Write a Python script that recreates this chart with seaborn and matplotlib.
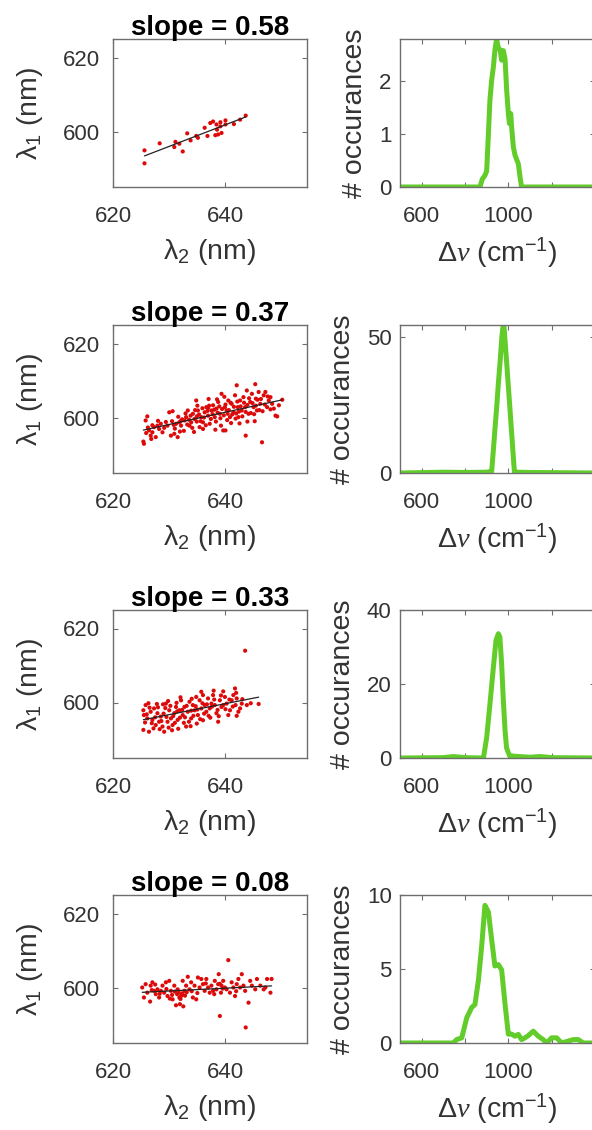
import numpy as np
import pandas as pd
import matplotlib
matplotlib.use("Agg")
import matplotlib.pyplot as plt
import seaborn as sns

# ---------------- data ----------------
slopes = ["0.58", "0.37", "0.33", "0.08"]

s1_x = [625.6, 625.6, 628.3, 631.1, 630.9, 631.8, 632.4, 633.2, 633.8, 634.8, 635.1, 636.3, 636.8,
        637.3, 637.8, 638.5, 638.4, 639.1, 640.0, 638.2, 638.7, 639.3, 639.1, 640.0, 641.5, 642.6, 643.6]
s1_y = [594.9, 591.4, 596.8, 597.2, 595.8, 596.7, 594.6, 599.5, 597.6, 598.8, 598.3, 601.0, 598.8,
        602.3, 602.7, 600.5, 601.9, 602.5, 603.0, 599.0, 599.2, 599.6, 601.4, 601.9, 602.0, 603.2, 604.3]

s2_x = [625.5, 625.4, 625.8, 626.1, 626.4, 626.7, 627.0, 627.3, 627.6, 627.9, 628.2, 628.5, 629.1, 629.7,
        630.0, 630.6, 630.3, 630.9, 631.5, 631.2, 631.8, 632.1, 632.7, 633.0, 633.3, 633.6, 633.9, 634.2,
        634.5, 634.8, 635.1, 635.4, 635.7, 636.0, 636.3, 636.6, 636.9, 637.2, 637.5, 637.8, 638.1, 638.4,
        638.7, 639.0, 639.3, 639.2, 639.6, 639.9, 640.0, 640.2, 640.5, 640.8, 641.1, 641.4, 641.7, 642.0,
        642.2, 642.3, 642.6, 642.9, 643.2, 643.5, 643.6, 643.8, 644.1, 644.4, 644.7, 645.0, 645.3, 645.4,
        645.6, 645.9, 646.2, 646.5, 646.8, 647.1, 647.4, 647.7, 648.0, 648.3, 648.6, 648.9, 649.2, 649.5,
        650.1,
        630.5, 631.0, 631.6, 632.3, 632.6, 633.2, 633.8, 634.1, 634.6, 634.9, 635.3, 635.6, 635.9, 636.2,
        636.5, 636.8, 637.1, 637.4, 637.7, 638.0, 638.3, 638.6, 638.9, 639.1, 639.4, 639.7, 640.0, 640.3,
        640.6, 640.9, 641.2, 641.5, 641.8, 642.1, 642.4, 642.7, 643.0, 643.3, 643.6, 643.9, 644.2, 644.5,
        644.8, 645.1, 645.4, 645.7, 646.0, 646.3, 646.6, 647.0, 647.5, 648.0, 628.8, 629.4, 628.0, 627.0,
        626.8, 626.2, 625.9, 631.9, 632.9, 634.4, 635.0, 636.0, 637.0, 638.2, 639.8, 641.0, 642.5, 643.9,
        645.2, 636.9, 638.5, 640.4, 641.9, 633.5, 634.9, 630.8, 632.0]
s2_y = [592.9, 593.5, 599.2, 600.3, 596.5, 595.1, 596.0, 597.4, 594.7, 597.8, 596.9, 598.3, 597.2, 597.8,
        601.4, 601.7, 595.1, 595.6, 594.7, 598.3, 598.7, 597.8, 599.2, 600.1, 601.9, 597.8, 598.7, 601.0,
        599.6, 604.6, 601.9, 597.4, 600.1, 598.7, 601.4, 602.8, 600.5, 598.3, 601.9, 603.3, 600.1, 602.4,
        604.2, 601.0, 606.4, 597.8, 596.5, 602.8, 596.5, 601.9, 604.6, 600.1, 603.7, 601.4, 606.0, 608.7,
        602.8, 600.1, 604.6, 601.9, 605.5, 602.8, 595.1, 607.3, 601.0, 604.2, 606.4, 602.8, 609.0, 605.1,
        601.9, 606.9, 603.7, 593.3, 606.0, 606.9, 602.8, 604.6, 605.5, 603.7, 602.4, 600.5, 600.3, 603.3,
        604.8,
        599.0, 597.0, 600.2, 599.5, 596.4, 598.1, 600.5, 597.2, 602.0, 598.9, 600.8, 599.0, 602.5, 600.0,
        597.9, 601.8, 603.2, 599.6, 600.9, 602.1, 598.9, 601.3, 603.0, 599.8, 602.3, 600.6, 603.5, 599.3,
        602.0, 604.0, 600.8, 602.9, 599.7, 604.3, 601.6, 603.0, 600.3, 604.0, 601.5, 603.4, 605.2, 601.2,
        603.9, 600.9, 603.2, 604.8, 602.0, 605.0, 601.7, 603.5, 605.7, 602.2, 596.0, 598.8, 599.1, 597.9,
        594.2, 597.3, 595.8, 596.2, 601.1, 596.1, 603.2, 596.9, 605.0, 596.7, 605.6, 598.5, 598.4, 598.9,
        599.0, 602.6, 604.9, 601.0, 601.1, 599.4, 600.3, 598.0, 599.0]

s3_x = [625.4, 625.5, 625.4, 625.8, 626.1, 626.4, 626.7, 627.0, 627.3, 627.6, 627.9, 628.2, 628.5, 628.8,
        629.1, 629.4, 629.7, 630.0, 630.3, 630.6, 630.9, 631.2, 631.5, 631.8, 632.1, 632.4, 632.7, 633.0,
        633.3, 633.6, 633.9, 634.2, 634.5, 634.8, 635.1, 635.4, 635.7, 636.0, 636.3, 636.6, 636.9, 637.2,
        637.5, 637.8, 638.1, 638.4, 638.7, 639.0, 639.3, 639.6, 639.9, 640.2, 640.5, 640.8, 641.1, 641.4,
        641.7, 641.8, 642.0, 642.3, 642.6, 642.9, 643.5, 643.8, 645.9,
        626.0, 626.9, 627.5, 628.0, 628.6, 629.0, 629.5, 629.9, 630.2, 630.7, 631.0, 631.4, 631.9, 632.3,
        632.8, 633.1, 633.5, 633.9, 634.3, 634.7, 635.0, 635.5, 635.9, 636.2, 636.7, 637.0, 637.6, 638.0,
        638.6, 639.2, 640.0, 640.7, 641.3, 626.5, 627.2, 628.3, 629.3, 630.5, 631.6, 632.6, 633.8, 634.9,
        636.0, 637.3, 638.8, 625.7, 627.8, 629.8, 632.0, 634.0, 635.7, 637.9, 639.6, 641.9, 643.0, 644.5,
        642.0, 626.3, 628.9, 631.3]
s3_y = [597.9, 596.6, 592.6, 599.3, 595.7, 592.1, 597.5, 595.3, 598.4, 593.9, 597.1, 594.8, 596.2, 593.5,
        592.1, 599.7, 594.8, 597.9, 595.7, 593.9, 597.1, 598.8, 595.3, 597.9, 600.6, 596.6, 598.8, 593.5,
        597.5, 600.2, 595.7, 599.3, 597.9, 601.5, 596.6, 600.6, 598.4, 602.0, 599.3, 597.5, 601.1, 598.4,
        599.7, 602.0, 599.3, 597.1, 594.8, 600.6, 598.8, 599.3, 601.5, 599.7, 596.6, 597.9, 600.6, 602.0,
        603.8, 599.3, 601.1, 597.5, 598.4, 599.7, 614.0, 599.3, 599.6,
        596.8, 594.4, 596.0, 598.7, 595.0, 597.0, 596.1, 593.2, 599.1, 596.3, 594.5, 597.6, 595.9, 598.0,
        596.0, 599.1, 594.8, 597.8, 596.4, 599.0, 598.1, 595.5, 599.8, 597.0, 599.5, 596.4, 598.9, 600.8,
        598.0, 601.9, 598.2, 600.8, 598.9, 598.6, 593.0, 592.8, 598.5, 592.5, 592.9, 594.5, 593.6, 594.3,
        595.2, 595.9, 596.3, 594.6, 599.6, 600.4, 601.4, 601.0, 602.9, 603.2, 603.0, 602.6, 600.9, 599.8,
        596.4, 599.8, 599.5, 599.9]

s4_x = [625.2, 625.5, 625.8, 626.1, 626.6, 626.7, 627.0, 627.3, 627.6, 627.9, 628.2, 628.5, 628.8, 629.1,
        629.4, 629.7, 630.0, 630.3, 630.6, 630.9, 631.2, 631.4, 631.5, 631.8, 632.1, 632.4, 632.7, 633.0,
        633.3, 633.6, 633.9, 634.2, 634.5, 634.8, 635.1, 635.4, 635.7, 636.0, 636.3, 636.6, 636.9, 637.2,
        637.5, 637.8, 638.1, 638.4, 638.7, 638.8, 639.0, 639.2, 639.3, 639.6, 639.9, 640.2, 640.5, 640.8,
        641.1, 641.4, 641.7, 642.0, 642.3, 642.6, 642.9, 643.2, 643.5, 643.6, 644.1, 644.4, 644.7, 645.3,
        645.6, 646.2, 646.8, 647.1, 647.4, 648.0, 648.2,
        631.0, 631.7, 632.0, 632.3, 632.8, 633.1, 629.5, 628.3, 630.5, 634.0, 635.0, 636.5, 638.0, 639.0,
        639.5, 641.9, 626.9, 627.5, 631.9, 632.5, 630.1]
s4_y = [600.0, 597.3, 600.9, 598.6, 596.2, 600.5, 601.4, 599.1, 598.2, 599.5, 597.3, 599.1, 600.5, 598.6,
        601.4, 597.7, 601.8, 599.1, 596.8, 600.5, 595.2, 598.2, 599.5, 597.3, 597.7, 601.8, 599.1, 600.5,
        602.9, 599.5, 601.4, 597.3, 600.5, 596.8, 602.7, 600.0, 602.3, 600.9, 599.1, 602.3, 600.0, 598.6,
        600.5, 599.1, 601.8, 599.5, 600.9, 603.6, 592.3, 598.6, 600.5, 601.8, 600.0, 599.5, 607.4, 598.6,
        601.4, 600.0, 597.7, 600.9, 602.3, 600.0, 603.6, 600.5, 599.1, 589.2, 595.9, 601.8, 600.5, 599.5,
        602.3, 600.5, 599.5, 600.0, 602.3, 598.6, 602.3,
        598.9, 598.6, 596.9, 598.4, 597.8, 598.7, 599.6, 598.3, 598.0, 599.0, 598.5, 601.1, 598.2, 601.0,
        599.7, 599.0, 599.3, 600.8, 595.5, 594.9, 597.0]

h1_x = [500, 869, 880, 892, 900, 908, 915, 923, 931, 938, 946, 954, 962, 969, 977, 985, 992, 1000,
        1005, 1011, 1015, 1023, 1031, 1046, 1054, 1061, 1400]
h1_y = [0, 0, 0.15, 0.22, 0.3, 1.0, 1.64, 2.02, 2.27, 2.59, 2.8, 2.62, 2.6, 2.4, 2.58, 2.42, 1.85, 1.39,
        1.2, 1.39, 1.14, 0.76, 0.6, 0.44, 0.19, 0, 0]

h2_x = [500, 700, 800, 900, 915, 923, 931, 938, 946, 954, 962, 970, 976, 980, 985, 992, 1000, 1008,
        1015, 1023, 1028, 1040, 1100, 1400]
h2_y = [0, 0.3, 0.2, 0.3, 0.5, 0.5, 8.5, 16, 24, 33, 41, 50, 54.5, 54, 48.5, 41, 32, 23,
        15, 6, 0.5, 0.3, 0.2, 0]

h3_x = [500, 700, 746, 800, 885, 900, 915, 931, 943, 954, 961, 969, 977, 985, 992, 1005, 1023, 1100,
        1146, 1200, 1400]
h3_y = [0, 0.1, 0.4, 0.1, 0, 5.5, 14.5, 24.5, 31.8, 33.6, 32.7, 25.5, 15.5, 7.3, 2.7, 0.7, 0.5, 0.2,
        0.4, 0.1, 0]

h4_x = [500, 746, 761, 785, 808, 831, 846, 862, 877, 892, 908, 923, 938, 954, 969, 985, 1000, 1015,
        1031, 1046, 1061, 1077, 1092, 1115, 1138, 1161, 1177, 1200, 1223, 1246, 1269, 1300, 1323, 1346, 1400]
h4_y = [0, 0, 0.23, 0.35, 1.7, 2.4, 2.6, 4.25, 6.55, 9.3, 8.85, 7.0, 5.2, 5.3, 4.95, 2.6, 0.6, 0.6,
        0.46, 0.58, 0.23, 0.35, 0.5, 0.8, 0.46, 0.23, 0, 0.35, 0.35, 0, 0.1, 0.23, 0.23, 0, 0]

h_ymax = [2.8, 54.5, 40, 10]
h_yticks = [[0, 1, 2], [0, 50], [0, 20, 40], [0, 5, 10]]
h_xticks = [600, 800, 1000, 1200]
h_xticklabels = ["600", "", "1000", ""]
s_xticks = [620, 640]
s_yticks = [600, 620]

scatters = [(s1_x, s1_y), (s2_x, s2_y), (s3_x, s3_y), (s4_x, s4_y)]
hists = [(h1_x, h1_y), (h2_x, h2_y), (h3_x, h3_y), (h4_x, h4_y)]

# ---------------- style ----------------
sns.set_theme(style="ticks")
plt.rcParams["font.family"] = ["Liberation Sans", "DejaVu Sans"]
plt.rcParams["mathtext.fontset"] = "custom"
plt.rcParams["mathtext.rm"] = "Liberation Sans"
plt.rcParams["mathtext.it"] = "Liberation Serif:italic"
plt.rcParams["mathtext.default"] = "regular"

RED = "#dd0a0a"
GREEN = "#62cc2a"
SPINE = "#6e6e6e"
TXT = "#333333"
LABEL_FS = 20.5

fig = plt.figure(figsize=(5.92, 11.3), dpi=100)
W, H = 592.0, 1130.0
tops = [39, 325, 610, 895]
ax_h = 148

def style_axes(ax, xpad, ypad):
    for sp in ax.spines.values():
        sp.set_color(SPINE)
        sp.set_linewidth(1.0)
    ax.tick_params(axis="both", direction="in", top=True, right=True, length=3.5, width=0.8,
                   color=SPINE, labelsize=16, labelcolor=TXT)
    ax.tick_params(axis="x", pad=xpad)
    ax.tick_params(axis="y", pad=ypad)

for i in range(4):
    bottom = 1 - (tops[i] + ax_h) / H
    height = ax_h / H

    # scatter panel
    axL = fig.add_axes([113 / W, bottom, 194 / W, height])
    sx, sy = scatters[i]
    df = pd.DataFrame({"l2": sx, "l1": sy})
    sns.scatterplot(data=df, x="l2", y="l1", ax=axL, color=RED, s=9, edgecolor="none", linewidth=0)
    sns.regplot(data=df, x="l2", y="l1", ax=axL, scatter=False, ci=None, truncate=True,
                color="#222222", line_kws=dict(lw=0.9))
    axL.set_xlim(620, 654.5)
    axL.set_ylim(585, 625)
    axL.set_xticks(s_xticks)
    axL.set_yticks(s_yticks)
    style_axes(axL, 14, 9)
    axL.set_title(f"slope = {slopes[i]}", fontsize=20, fontweight="bold", color="black", pad=3)
    axL.set_xlabel("λ$_2$ (nm)", fontsize=LABEL_FS, color=TXT, labelpad=7)
    axL.set_ylabel("λ$_1$ (nm)", fontsize=LABEL_FS, color=TXT, labelpad=13)

    # histogram-line panel
    axR = fig.add_axes([400 / W, bottom, 195 / W, height])
    hx, hy = hists[i]
    dh = pd.DataFrame({"dnu": hx, "n": hy})
    sns.lineplot(data=dh, x="dnu", y="n", ax=axR, color=GREEN, lw=3.6, sort=False, estimator=None)
    axR.set_xlim(500, 1400)
    axR.set_ylim(0, h_ymax[i])
    axR.set_xticks(h_xticks)
    axR.set_xticklabels(h_xticklabels)
    axR.set_yticks(h_yticks[i])
    style_axes(axR, 14, 6)
    axR.set_xlabel(r"Δ$\mathit{\nu}$ (cm$^{-1}$)", fontsize=LABEL_FS, color=TXT, labelpad=6)
    axR.set_ylabel("# occurances", fontsize=LABEL_FS, color=TXT, labelpad=8)

fig.savefig("out.png", dpi=100)
